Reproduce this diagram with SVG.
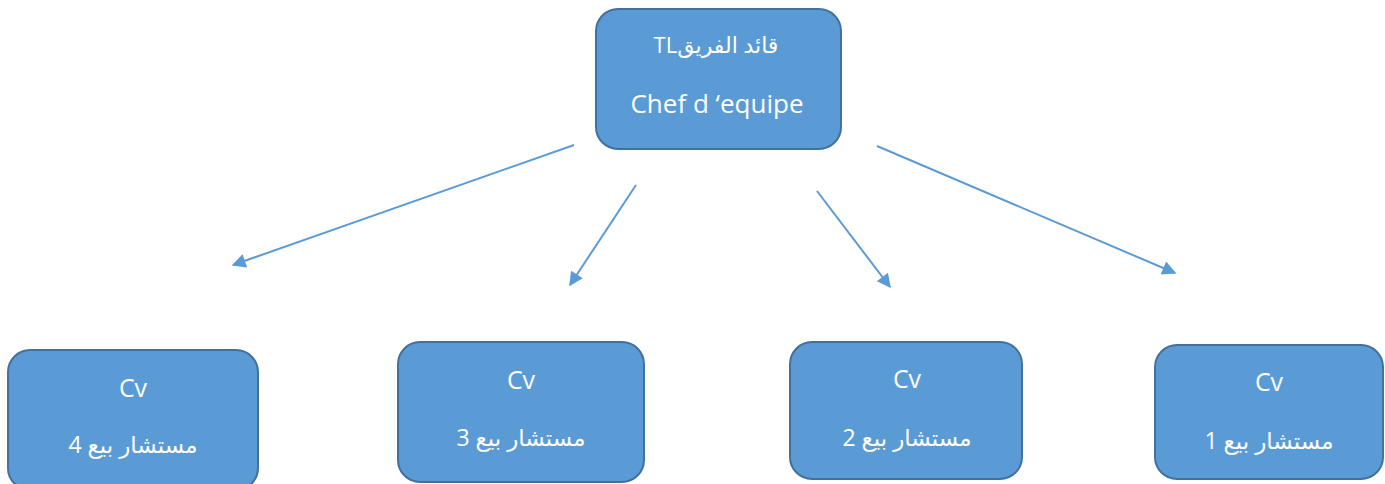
<svg xmlns="http://www.w3.org/2000/svg" width="1385" height="484" viewBox="0 0 1385 484">
<defs>
<style>
.box{fill:#5b9bd5;stroke:#41719c;stroke-width:2}
.t{fill:#ffffff;font-family:"Open Sans","Noto Sans","DejaVu Sans",sans-serif;text-anchor:middle}
.ar{direction:rtl;unicode-bidi:embed;font-size:23px}
.cv{font-size:25px}
.c{stroke:#5b9bd5;stroke-width:2;fill:none;marker-end:url(#ah)}
</style>
<marker id="ah" viewBox="0 0 10 10" refX="9" refY="5" markerWidth="8" markerHeight="7" orient="auto">
<path d="M0,0 L10,5 L0,10 z" fill="#5b9bd5"/>
</marker>
</defs>
<g id="connectors">
<line x1="574" y1="145" x2="233" y2="265" class="c"/>
<line x1="636" y1="185" x2="570" y2="285" class="c"/>
<line x1="817" y1="191" x2="890" y2="287" class="c"/>
<line x1="877" y1="146" x2="1175" y2="273" class="c"/>
</g>
<g id="node-leader">
<rect class="box" x="596" y="9" width="245" height="140" rx="22"/>
<text class="t ar" x="716" y="53" style="font-size:22px">قائد الفريقTL</text>
<text class="t" x="717" y="113" font-size="26">Chef d ‘equipe</text>
</g>
<g id="node-cv4">
<rect class="box" x="8" y="350" width="250" height="140" rx="22"/>
<text class="t cv" x="133" y="397">Cv</text>
<text class="t ar" x="133" y="453">مستشار بيع 4</text>
</g>
<g id="node-cv3">
<rect class="box" x="398" y="342" width="246" height="140" rx="22"/>
<text class="t cv" x="521" y="389">Cv</text>
<text class="t ar" x="521" y="446">مستشار بيع 3</text>
</g>
<g id="node-cv2">
<rect class="box" x="790" y="342" width="232" height="137" rx="22"/>
<text class="t cv" x="907" y="388">Cv</text>
<text class="t ar" x="907" y="446">مستشار بيع 2</text>
</g>
<g id="node-cv1">
<rect class="box" x="1155" y="345" width="228" height="134" rx="22"/>
<text class="t cv" x="1269" y="391">Cv</text>
<text class="t ar" x="1269" y="449">مستشار بيع 1</text>
</g>
</svg>
